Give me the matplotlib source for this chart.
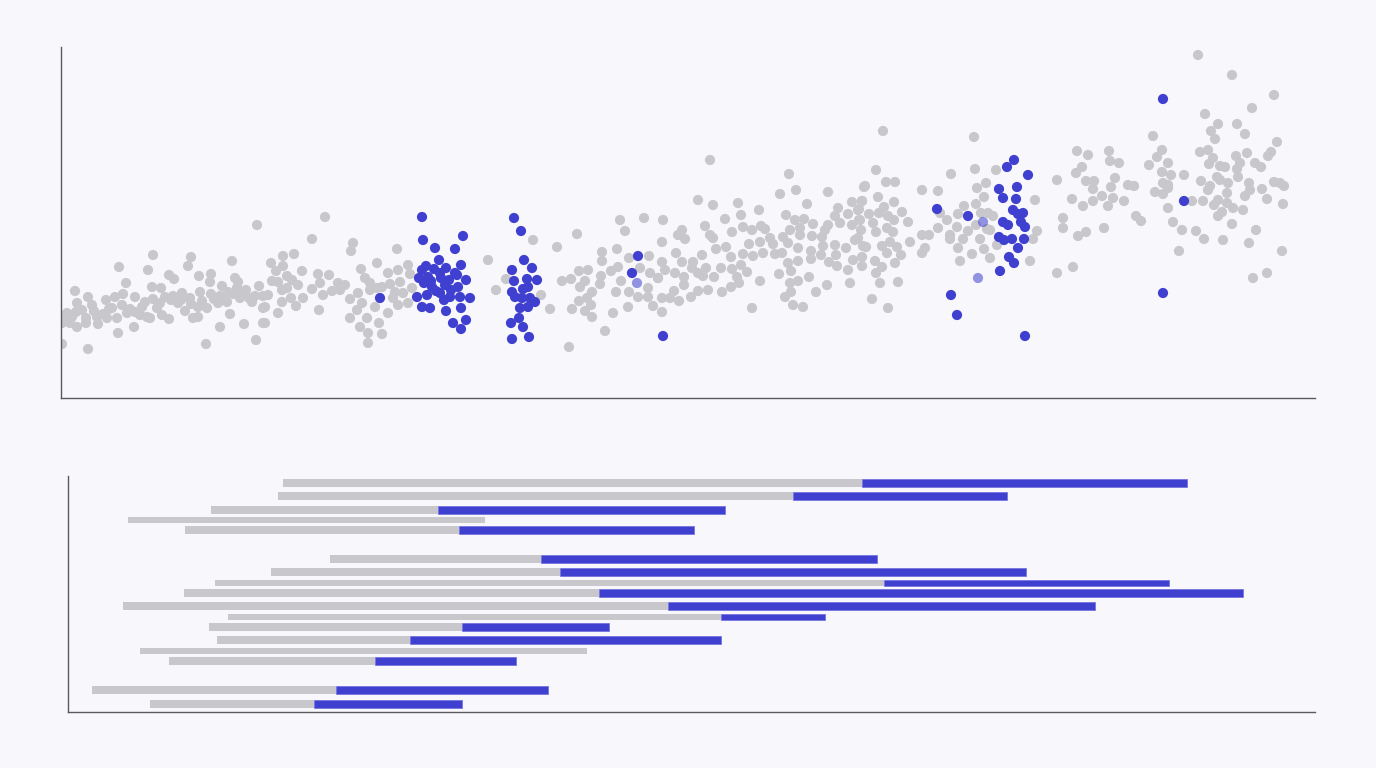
import matplotlib.pyplot as plt

# ---- top panel: scatter (arbitrary units) ----
grey_x = [
    19.6, 9.2, 13.0, 5.8, 8.7, 12.7, 17.1, 10.8, 11.3, 13.8, 15.0, 14.9, 17.4, 17.7, 6.5, 9.1, 10.0, 16.1, 19.8,
    1.4, 1.6, 2.7, 4.5, 5.4, 6.2, 7.4, 9.2, 10.4, 11.2, 12.1, 12.9, 13.9, 15.0, 15.9, 16.7, 17.6, 18.5, 19.4, 20.2,
    0.6, 1.1, 2.1, 3.1, 3.6, 4.2, 5.1, 6.1, 6.6, 7.4, 8.1, 8.6, 9.6, 10.1, 10.8, 11.7, 12.4, 13.2, 13.7, 14.6,
    15.7, 16.6, 16.9, 17.9, 19.1, 0.1, 0.9, 1.6, 2.5, 3.7, 4.6, 5.7, 7.3, 8.9, 13.7, 15.9, 18.3, 20.2, 0.1, 2.7,
    14.5, 19.5, 20.2, 0.5, 1.5, 2.5, 3.3, 4.8, 5.6, 6.9, 7.9, 8.4, 9.9, 11.0, 12.0, 13.0, 14.1, 15.3, 16.2, 17.2,
    18.0, 18.8,
    26.4, 25.1, 29.2, 29.0, 33.6, 23.3, 22.2, 21.0, 22.2, 31.6, 30.0, 21.5, 22.6, 24.1, 25.7, 26.8, 30.4, 32.7,
    33.7, 34.7, 34.9, 21.1, 21.7, 23.1, 23.7, 25.1, 25.9, 27.7, 28.4, 30.9, 32.1, 32.9, 33.9, 35.1, 20.7, 22.1,
    22.6, 23.0, 24.2, 27.1, 27.9, 26.2, 29.7, 28.9, 30.9, 31.6, 33.4, 33.2, 34.2, 34.7, 33.7, 20.4, 21.7, 22.1,
    23.5, 25.8, 29.6, 30.1, 31.4, 32.7, 20.4, 28.9, 30.6, 29.9, 31.8, 30.7, 32.1, 30.7,
    42.7, 43.5, 44.5, 47.2, 48.0, 48.9, 49.6, 50.1, 51.0, 50.8, 51.6, 51.8, 52.7, 52.4, 51.9, 53.1, 51.8, 52.6,
    53.0, 51.1, 52.4, 53.1, 54.0, 53.9, 54.1, 54.1, 55.0, 55.7, 55.6, 56.0, 55.5, 55.2, 54.4, 55.9, 56.4, 58.3,
    56.8, 57.9, 58.8, 58.9, 59.7, 58.7, 56.8, 57.7, 58.7, 56.7, 59.2,
    64.9, 72.8, 71.9, 73.5, 76.7, 80.3, 63.7, 65.2, 67.7, 69.8, 74.6, 79.1, 80.1, 77.7, 60.2, 66.4, 68.0, 72.5,
    73.4, 74.3, 75.2, 77.4, 78.7, 79.7, 64.4, 62.1, 61.7, 62.4, 64.9, 65.2, 67.1, 68.2, 69.1, 70.0, 70.4, 72.9,
    73.9, 73.9, 75.1, 76.4, 76.7, 77.9, 79.1, 79.8, 60.1, 66.5, 65.5, 68.8, 69.9, 70.9, 71.2, 72.2, 72.7, 73.7,
    76.1, 76.2, 77.4, 78.5, 79.4, 80.2, 61.5, 60.1, 62.1, 63.2, 64.1, 67.0, 68.2, 69.2, 70.2, 71.4, 72.1, 72.7,
    73.7, 75.0, 75.0, 76.0, 76.8, 77.5, 77.6, 78.7, 79.2, 80.1, 59.7, 60.4, 61.4, 62.3, 63.1, 63.7, 64.5, 64.2,
    65.3, 66.0, 67.1, 67.6, 68.0, 68.6, 67.8, 69.9, 71.8, 73.0, 72.9, 73.7, 74.8, 76.6, 78.9, 62.3, 61.3, 63.7,
    64.7, 66.1, 67.0, 73.0, 75.5, 60.1, 60.9, 61.8, 63.0, 72.4, 60.1, 69.1, 73.2, 74.2,
    82.2, 91.3, 81.5, 82.5, 83.4, 80.4, 89.0, 91.4, 93.5, 86.1, 87.7, 92.5, 91.6, 99.6, 97.4, 81.7, 80.1, 83.3,
    92.3, 82.3, 84.1, 79.8, 80.8, 81.8, 82.7, 83.3, 84.7, 87.9, 88.6, 89.7, 90.3, 91.5, 92.0, 92.7, 93.2, 79.9,
    81.2, 80.0, 81.5, 82.6, 83.2, 89.6, 90.7, 91.5, 92.6, 92.9, 97.6, 100.2, 86.1, 86.8, 87.7, 88.9, 88.9, 90.2,
    91.9, 97.2, 79.7, 80.5, 82.1, 82.9, 83.6, 84.9, 86.4, 86.1, 89.7, 92.3, 93.6, 80.1, 81.4, 82.6, 83.4, 84.0,
    82.1, 81.5, 91.1, 89.9, 92.9, 96.9, 81.9, 83.7, 81.1, 82.7, 99.6, 100.2,
    113.7, 117.1, 121.3, 119.1, 114.4, 115.7, 117.6, 115.0, 118.4, 115.4, 121.6, 109.2, 101.6, 102.7, 104.8,
    110.1, 109.6, 113.9, 114.7, 115.2, 117.5, 118.6, 121.0, 120.7, 102.1, 104.9, 105.8, 108.8, 110.7, 114.8,
    115.9, 116.4, 117.9, 119.4, 120.0, 117.6, 101.5, 102.5, 103.3, 105.4, 103.2, 105.0, 106.7, 107.3, 110.1,
    111.0, 110.2, 110.7, 112.3, 114.0, 115.6, 115.9, 116.7, 117.7, 118.8, 121.3, 121.9, 122.3, 120.1, 101.1,
    102.2, 103.2, 104.1, 105.2, 104.7, 106.3, 109.4, 110.2, 110.7, 110.7, 113.1, 114.2, 114.7, 114.9, 115.3,
    116.6, 115.7, 116.6, 117.2, 118.4, 118.9, 118.2, 120.6, 122.2, 101.7, 102.5, 104.3, 107.5, 108.0, 111.2,
    112.1, 113.5, 114.3, 115.7, 116.1, 116.2, 117.1, 119.5, 118.8, 122.1, 111.8, 101.2, 119.2, 120.6,
]
grey_y = [
    17.3, 14.3, 14.1, 13.1, 12.8, 13.2, 13.7, 12.3, 11.9, 12.2, 12.4, 11.6, 12.0, 11.6, 11.5, 11.1, 11.0, 11.2, 11.2,
    10.7, 9.5, 10.1, 9.8, 10.1, 10.4, 10.1, 9.9, 10.1, 10.2, 10.5, 10.0, 10.6, 10.4, 10.2, 10.6, 11.0, 10.8, 10.2, 10.2,
    8.5, 8.1, 8.8, 9.3, 8.1, 8.4, 9.0, 9.3, 8.5, 8.6, 9.1, 8.1, 9.0, 8.3, 7.9, 9.5, 8.7, 8.0, 9.1, 9.0,
    9.5, 9.6, 8.4, 10.0, 9.6, 7.5, 7.5, 7.1, 7.5, 7.4, 8.0, 6.5, 7.1, 8.0, 8.1, 7.1, 7.4, 7.5, 5.4, 4.9,
    5.4, 5.8, 9.0, 7.9, 8.6, 8.0, 8.7, 8.9, 8.0, 8.9, 8.3, 9.6, 9.5, 9.8, 9.8, 9.4, 9.7, 9.9, 9.8, 10.4,
    10.2, 10.0,
    18.1, 15.9, 15.5, 14.7, 14.9, 14.4, 14.2, 13.5, 13.2, 13.5, 12.9, 12.7, 12.2, 12.7, 12.4, 12.3, 12.0, 12.5,
    12.8, 13.3, 12.4, 11.7, 11.6, 11.8, 11.3, 10.9, 11.5, 11.5, 11.3, 11.5, 11.1, 11.4, 11.6, 11.0, 10.3, 10.8,
    11.0, 10.0, 10.0, 10.7, 10.8, 10.3, 10.5, 9.9, 10.8, 11.0, 10.6, 10.0, 10.5, 9.5, 9.3, 9.1, 8.5, 9.6,
    9.2, 8.8, 8.8, 9.5, 9.1, 8.5, 7.5, 8.0, 8.0, 7.1, 7.5, 6.5, 6.4, 5.5,
    13.8, 10.8, 11.9, 15.8, 10.3, 8.9, 15.1, 11.7, 11.9, 5.1, 16.4, 12.7, 12.8, 11.7, 11.1, 10.6, 9.7, 10.0,
    9.3, 8.9, 8.7, 8.1, 12.2, 11.4, 13.7, 14.6, 12.7, 13.1, 14.9, 11.7, 10.6, 8.5, 6.7, 17.8, 16.7, 18.0,
    14.0, 13.0, 14.2, 12.5, 12.0, 11.0, 10.6, 10.1, 10.1, 9.1, 9.2,
    23.8, 22.4, 20.4, 20.8, 20.6, 21.1, 19.8, 19.3, 19.5, 18.8, 19.4, 19.6, 19.7, 19.0, 17.8, 17.9, 18.3, 18.3,
    17.8, 17.9, 17.4, 18.2, 18.4, 18.8, 17.2, 16.8, 16.3, 15.9, 16.3, 16.0, 16.6, 17.1, 16.8, 17.2, 16.9, 16.8,
    17.0, 16.3, 16.2, 16.8, 17.3, 17.5, 17.3, 17.8, 15.6, 15.1, 14.9, 15.4, 15.6, 16.0, 15.4, 16.1, 15.5, 15.0,
    16.1, 15.2, 15.3, 15.0, 15.8, 15.2, 14.5, 13.6, 13.6, 13.6, 14.3, 14.1, 14.4, 14.2, 14.5, 14.4, 14.5, 13.5,
    13.7, 14.7, 13.9, 14.3, 13.6, 14.3, 13.2, 12.8, 13.8, 13.2, 12.0, 12.8, 12.5, 12.1, 13.0, 12.5, 13.0, 12.2,
    12.1, 13.0, 12.9, 12.1, 13.3, 12.6, 11.5, 11.7, 12.4, 12.7, 11.5, 11.7, 12.1, 11.3, 11.5, 11.3, 10.7, 10.7,
    10.8, 10.6, 11.1, 10.6, 10.6, 10.0, 10.0, 9.7, 10.1, 10.1, 8.6, 9.0, 9.3, 9.1,
    26.7, 26.1, 22.8, 21.6, 21.6, 21.2, 22.4, 22.9, 22.8, 20.8, 20.7, 21.5, 21.0, 21.8, 19.8, 20.1, 19.7, 19.6,
    20.1, 19.1, 18.6, 18.9, 18.4, 18.5, 18.2, 17.8, 17.6, 18.5, 17.8, 18.4, 19.2, 19.4, 18.5, 18.5, 18.2, 17.8,
    17.5, 16.8, 16.6, 17.0, 16.6, 17.1, 16.7, 17.3, 16.9, 16.8, 16.7, 17.0, 16.3, 16.3, 17.0, 16.3, 15.9, 15.9,
    15.9, 15.9, 16.0, 15.1, 15.2, 15.6, 15.1, 15.6, 15.0, 14.5, 15.0, 14.9, 15.3, 14.1, 13.7, 14.5, 13.5, 14.3,
    13.1, 12.5, 14.4, 13.7, 14.0, 13.7, 11.5, 11.6, 9.9, 9.0, 12.5, 18.0,
    34.3, 32.3, 30.3, 29.0, 28.4, 27.4, 27.4, 26.7, 26.4, 25.9, 25.6, 26.2, 24.7, 24.3, 24.7,
    24.8, 24.1, 24.6, 24.8, 24.0, 24.2, 24.5, 24.6, 24.2, 23.1, 23.7, 23.5, 23.3, 23.5, 23.4,
    23.2, 23.1, 23.5, 23.5, 23.1, 22.9, 22.5, 21.7, 21.7, 22.0, 20.9, 21.1, 21.3, 21.2, 22.6,
    22.3, 21.5, 21.3, 22.3, 21.7, 22.1, 21.8, 21.5, 22.1, 21.5, 21.6, 21.5, 21.2, 20.9, 19.9,
    19.2, 19.7, 20.2, 20.0, 19.2, 19.7, 20.6, 20.4, 21.0, 19.0, 19.7, 19.7, 20.8, 21.2, 19.3,
    20.5, 19.8, 19.5, 19.0, 20.2, 20.8, 18.8, 19.9, 19.4, 16.2, 16.6, 17.0, 18.2, 17.7, 17.6,
    16.8, 16.7, 15.9, 18.2, 18.6, 15.8, 17.4, 16.8, 15.5, 14.7, 14.7, 13.1, 12.0, 12.5,
]

blue_x = [
    36.1, 36.2, 37.4, 40.2, 39.4, 37.8, 40.0, 36.1, 37.3, 35.8, 36.7, 37.9, 39.4, 40.5, 37.1, 38.4, 39.7, 35.6,
    36.6, 37.9, 38.9, 40.9, 39.9, 36.1, 36.9, 38.5, 40.0, 39.2, 40.5, 40.0, 37.0, 38.0, 38.8, 36.3, 39.0, 37.5,
    38.3, 39.6, 36.5, 38.5, 31.9,
    45.3, 46.0, 46.3, 47.1, 45.1, 45.3, 46.6, 47.6, 46.2, 46.7, 45.1, 45.4, 46.1, 46.9, 47.4, 45.9, 46.7, 45.8,
    45.0, 46.2, 45.1, 46.8, 57.7, 57.1, 60.2,
    95.3, 94.6, 96.7, 93.8, 95.6, 94.2, 95.5, 95.2, 95.7, 96.2, 94.2, 94.7, 96.0, 96.4, 93.8, 94.3, 95.1, 96.3,
    95.7, 94.8, 95.3, 93.9, 87.6, 90.7, 89.0, 89.6, 96.4, 110.2, 112.3, 110.2,
]
blue_y = [
    18.1, 15.8, 15.0, 16.2, 14.9, 13.8, 13.3, 12.8, 12.9, 12.0, 12.1, 12.5, 12.5, 11.8, 11.1, 11.3, 11.1, 10.1,
    10.3, 10.5, 10.1, 10.0, 10.1, 9.1, 9.0, 8.7, 9.0, 7.5, 7.8, 6.9, 11.7, 12.0, 11.8, 11.5, 10.8, 10.7,
    9.8, 12.3, 13.2, 13.0, 10.0,
    18.0, 16.7, 13.8, 13.0, 12.8, 11.7, 11.9, 11.8, 10.9, 11.1, 10.6, 10.1, 10.0, 10.0, 9.6, 9.0, 9.1, 8.0,
    7.5, 7.1, 5.9, 6.1, 14.2, 12.5, 6.2,
    23.8, 23.1, 22.3, 20.9, 21.1, 20.0, 19.9, 18.8, 18.4, 18.5, 17.6, 17.3, 17.6, 17.1, 16.1, 15.8, 15.9, 15.9,
    15.0, 14.1, 13.5, 12.7, 18.9, 18.2, 10.3, 8.3, 6.2, 29.9, 19.7, 10.5,
]
# highlighted points partly hidden behind the grey cloud
faded_x = [57.6, 92.2, 91.7]
faded_y = [11.5, 17.6, 12.0]

# ---- bottom panel: segments per lane ----
lanes = [0.7, 2.0, 3.4, 4.4, 5.4, 8.3, 9.6, 10.7, 11.7, 13.0, 14.1, 15.1, 16.4, 17.5, 18.5, 21.4, 22.8]
seg_start = [21.5, 21.0, 14.3, 6.0, 11.7, 26.2, 20.3, 14.7, 11.6, 5.5, 16.0, 14.1, 14.9, 7.2, 10.1, 2.4, 8.2]
seg_split = [79.4, 72.5, 37.0, 41.7, 39.1, 47.3, 49.2, 81.6, 53.1, 60.0, 65.3, 39.4, 34.2, 51.9, 30.7, 26.8, 24.6]
seg_end = [111.9, 93.9, 65.7, 41.7, 62.6, 80.9, 95.8, 110.1, 117.5, 102.7, 75.7, 54.1, 65.3, 51.9, 44.8, 48.0, 39.4]
thin_rows = {3, 7, 10, 13}

BG = '#f8f8fc'
GREY = '#c8c8cc'
BLUE = '#3f3fd0'
SPINE = '#5a5a5e'

fig = plt.figure(figsize=(13.76, 7.68), dpi=100, facecolor=BG)

ax1 = fig.add_axes([61 / 1376, 1 - 398 / 768, 1254 / 1376, 351 / 768], facecolor=BG)
ax1.scatter(grey_x, grey_y, s=54, color=GREY, edgecolors='none', zorder=2)
ax1.scatter(faded_x, faded_y, s=54, color=BLUE, alpha=0.55, edgecolors='none', zorder=3)
ax1.scatter(blue_x, blue_y, s=54, color=BLUE, edgecolors='none', zorder=4)
ax1.set_xlim(0, 125.4)
ax1.set_ylim(0, 35.1)

ax2 = fig.add_axes([68 / 1376, 1 - 712 / 768, 1247 / 1376, 236 / 768], facecolor=BG)
for i, lane in enumerate(lanes):
    h = 0.6 if i in thin_rows else 0.8
    ax2.barh(lane, seg_split[i] - seg_start[i], left=seg_start[i], height=h, color=GREY, zorder=2)
    if seg_end[i] > seg_split[i]:
        ax2.barh(lane, seg_end[i] - seg_split[i], left=seg_split[i], height=h, color=BLUE,
                 edgecolor='#6c6ce0', linewidth=0.5, zorder=3)
ax2.set_xlim(0, 124.7)
ax2.set_ylim(23.6, 0)

for ax in (ax1, ax2):
    ax.set_xticks([])
    ax.set_yticks([])
    for side in ('top', 'right'):
        ax.spines[side].set_visible(False)
    for side in ('left', 'bottom'):
        ax.spines[side].set_color(SPINE)
        ax.spines[side].set_linewidth(1.0)

fig.savefig('out.png', dpi=100, facecolor=BG)
